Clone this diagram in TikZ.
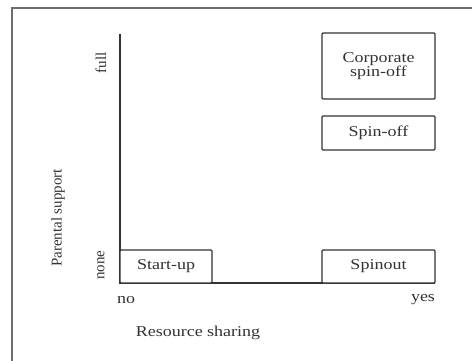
\documentclass[tikz,border=0pt]{standalone}
\usepackage{fontspec}
\setmainfont{Liberation Serif}
\usepackage{graphicx}
\usepackage{tikz}
\usepackage{xcolor}
\usetikzlibrary{positioning}
\definecolor{framegray}{RGB}{110,110,110}
\definecolor{inkgray}{RGB}{50,50,50}
\newcommand{\widetxt}[1]{\scalebox{1.2}[1]{#1}}
\tikzset{
  quadbox/.style={draw=inkgray, line width=1.4pt, rounded corners=1pt, inner sep=0pt,
    text=inkgray, font=\fontsize{15}{16}\selectfont, align=center},
  axislabel/.style={text=inkgray, font=\fontsize{15}{16}\selectfont, inner sep=0pt}
}
\begin{document}
\begin{tikzpicture}[x=1pt,y=-1pt]
  \clip (0,0) rectangle (472,360);
  % outer frame
  \draw[framegray, line width=1.5pt] (12,8) rectangle (490,380);
  % axes
  \coordinate (origin) at (120,283);
  \coordinate (ytop) at (120,34);
  \coordinate (xend) at (435,283);
  \draw[inkgray, line width=1.4pt] (ytop) -- (origin) -- (xend);
  % quadrant boxes
  \node[quadbox, minimum width=113pt, minimum height=66pt] (corpspin) at (378.5,66) {\widetxt{Corporate}\\[-2pt]\widetxt{spin-off}};
  \node[quadbox, minimum width=113pt, minimum height=34pt] (spinoff) at (378.5,133) {\widetxt{Spin-off}};
  \node[quadbox, minimum width=92pt, minimum height=33pt, fill=white] (startup) at (166,266.5) {\widetxt{Start-up}};
  \node[quadbox, minimum width=113pt, minimum height=33pt, fill=white] (spinout) at (378.5,266.5) {\widetxt{Spinout}};
  % axis labels
  \node[axislabel, rotate=90] (full) at (101,63) {full};
  \node[axislabel, rotate=90] (none) at (101,265) {none};
  \node[axislabel, rotate=90] (parent) at (58,218) {Parental support};
  \node[axislabel] (no) at (126,300) {\widetxt{no}};
  \node[axislabel] (yes) at (423,300) {\widetxt{yes}};
  \node[axislabel] (resource) at (198,333) {\widetxt{Resource sharing}};
\end{tikzpicture}
\end{document}
